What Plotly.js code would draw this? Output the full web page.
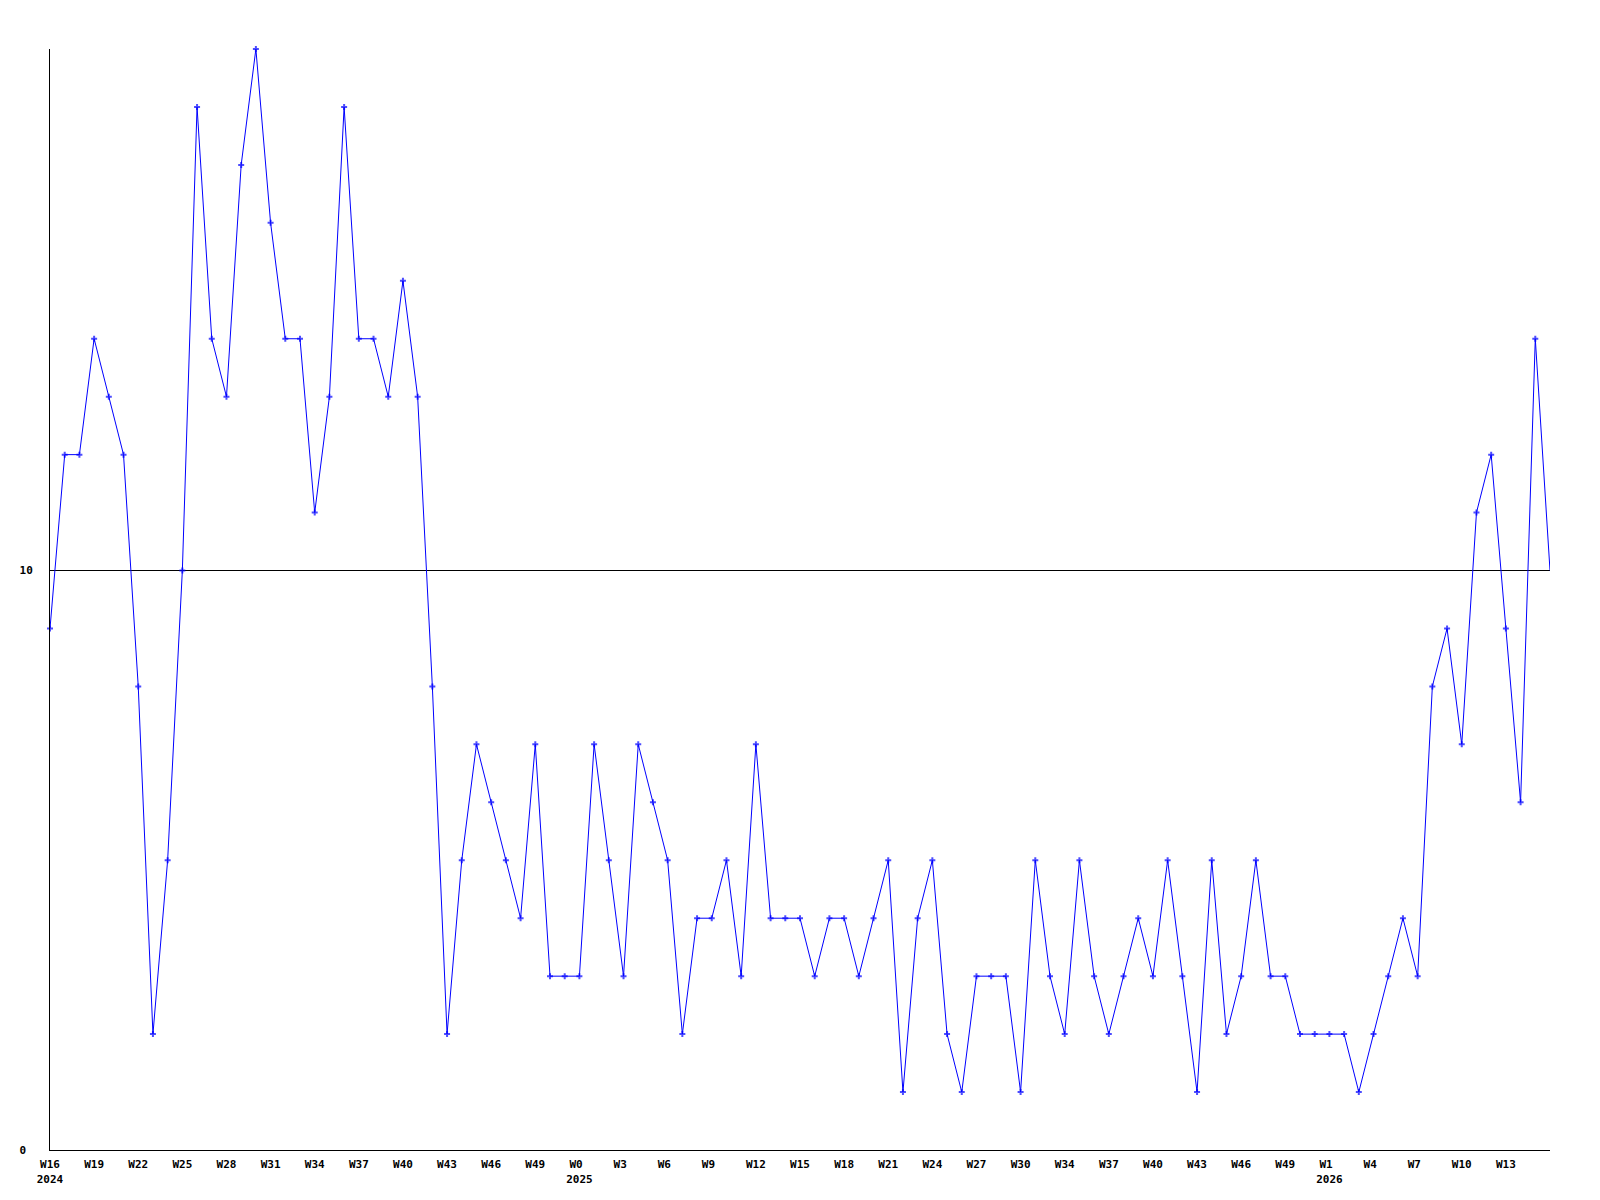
<!DOCTYPE html>
<html>
<head>
<meta charset="utf-8">
<script src="https://cdn.plot.ly/plotly-3.0.1.min.js"></script>
<style>html,body{margin:0;padding:0;background:#fff;}#chart{width:1600px;height:1200px;}</style>
</head>
<body>
<div id="chart"></div>
<script>
// Weekly values, first point = W16 2024, one point per week
const weeklyValues = [
  9, 12, 12, 14, 13, 12, 8, 2, 5, 10,
  18, 14, 13, 17, 19, 16, 14, 14, 11, 13,
  18, 14, 14, 13, 15, 13, 8, 2, 5, 7,
  6, 5, 4, 7, 3, 3, 3, 7, 5, 3,
  7, 6, 5, 2, 4, 4, 5, 3, 7, 4,
  4, 4, 3, 4, 4, 3, 4, 5, 1, 4,
  5, 2, 1, 3, 3, 3, 1, 5, 3, 2,
  5, 3, 2, 3, 4, 3, 5, 3, 1, 5,
  2, 3, 5, 3, 3, 2, 2, 2, 2, 1,
  2, 3, 4, 3, 8, 9, 7, 11, 12, 9,
  6, 14, 10
];

// X tick labels, one every third week
const xTickLabels = [
  "W16<br>2024", "W19", "W22", "W25", "W28", "W31", "W34", "W37", "W40", "W43", "W46", "W49",
  "W0<br>2025", "W3", "W6", "W9", "W12", "W15", "W18", "W21", "W24", "W27", "W30",
  "W34", "W37", "W40", "W43", "W46", "W49",
  "W1<br>2026", "W4", "W7", "W10", "W13"
];
const tickStep = 3;

const yTickValues = [0, 10];
const yTickLabels = ["0", "10"];

const xIdx = weeklyValues.map((_, i) => i);
const xTickVals = xTickLabels.map((_, i) => i * tickStep);
// left-align short labels like the original (pad to 3 chars with no-break spaces)
const padLabel = s => s.split("<br>").map(p => p.length < 3 ? p + "\u00a0".repeat(3 - p.length) : p).join("<br>");
const xTickText = xTickLabels.map(padLabel);
const yTickText = yTickLabels.map(s => s.length < 2 ? s + "\u00a0" : s);

const lastIdx = weeklyValues.length - 1;
const markerSizes = weeklyValues.map((_, i) => i === lastIdx ? 0 : 5);

const fontSpec = {family: "DejaVu Sans Mono, monospace", size: 11, color: "#000", weight: "bold"};

const trace = {
  x: xIdx,
  y: weeklyValues,
  type: "scatter",
  mode: "lines+markers",
  line: {color: "#0000ff", width: 1},
  marker: {symbol: "cross", size: markerSizes, color: "#0000ff", line: {width: 0}},
  cliponaxis: false,
  hoverinfo: "skip"
};

const layout = {
  width: 1600,
  height: 1200,
  margin: {l: 50, r: 50, t: 49, b: 50},
  paper_bgcolor: "#fff",
  plot_bgcolor: "#fff",
  showlegend: false,
  font: fontSpec,
  xaxis: {
    range: [0, lastIdx],
    tickmode: "array",
    tickvals: xTickVals,
    ticktext: xTickText,
    tickangle: 0,
    showgrid: false,
    zeroline: false,
    showline: true,
    linecolor: "#000",
    linewidth: 1,
    ticks: "",
    ticklabelstandoff: 4,
    tickfont: fontSpec,
    fixedrange: true
  },
  yaxis: {
    range: [0, 19],
    tickmode: "array",
    tickvals: yTickValues,
    ticktext: yTickText,
    showgrid: true,
    gridcolor: "#000",
    gridwidth: 1,
    zeroline: false,
    showline: true,
    linecolor: "#000",
    linewidth: 1,
    ticks: "",
    ticklabelstandoff: 14,
    tickfont: fontSpec,
    fixedrange: true
  }
};

Plotly.newPlot("chart", [trace], layout, {displayModeBar: false, staticPlot: true});
</script>
</body>
</html>
